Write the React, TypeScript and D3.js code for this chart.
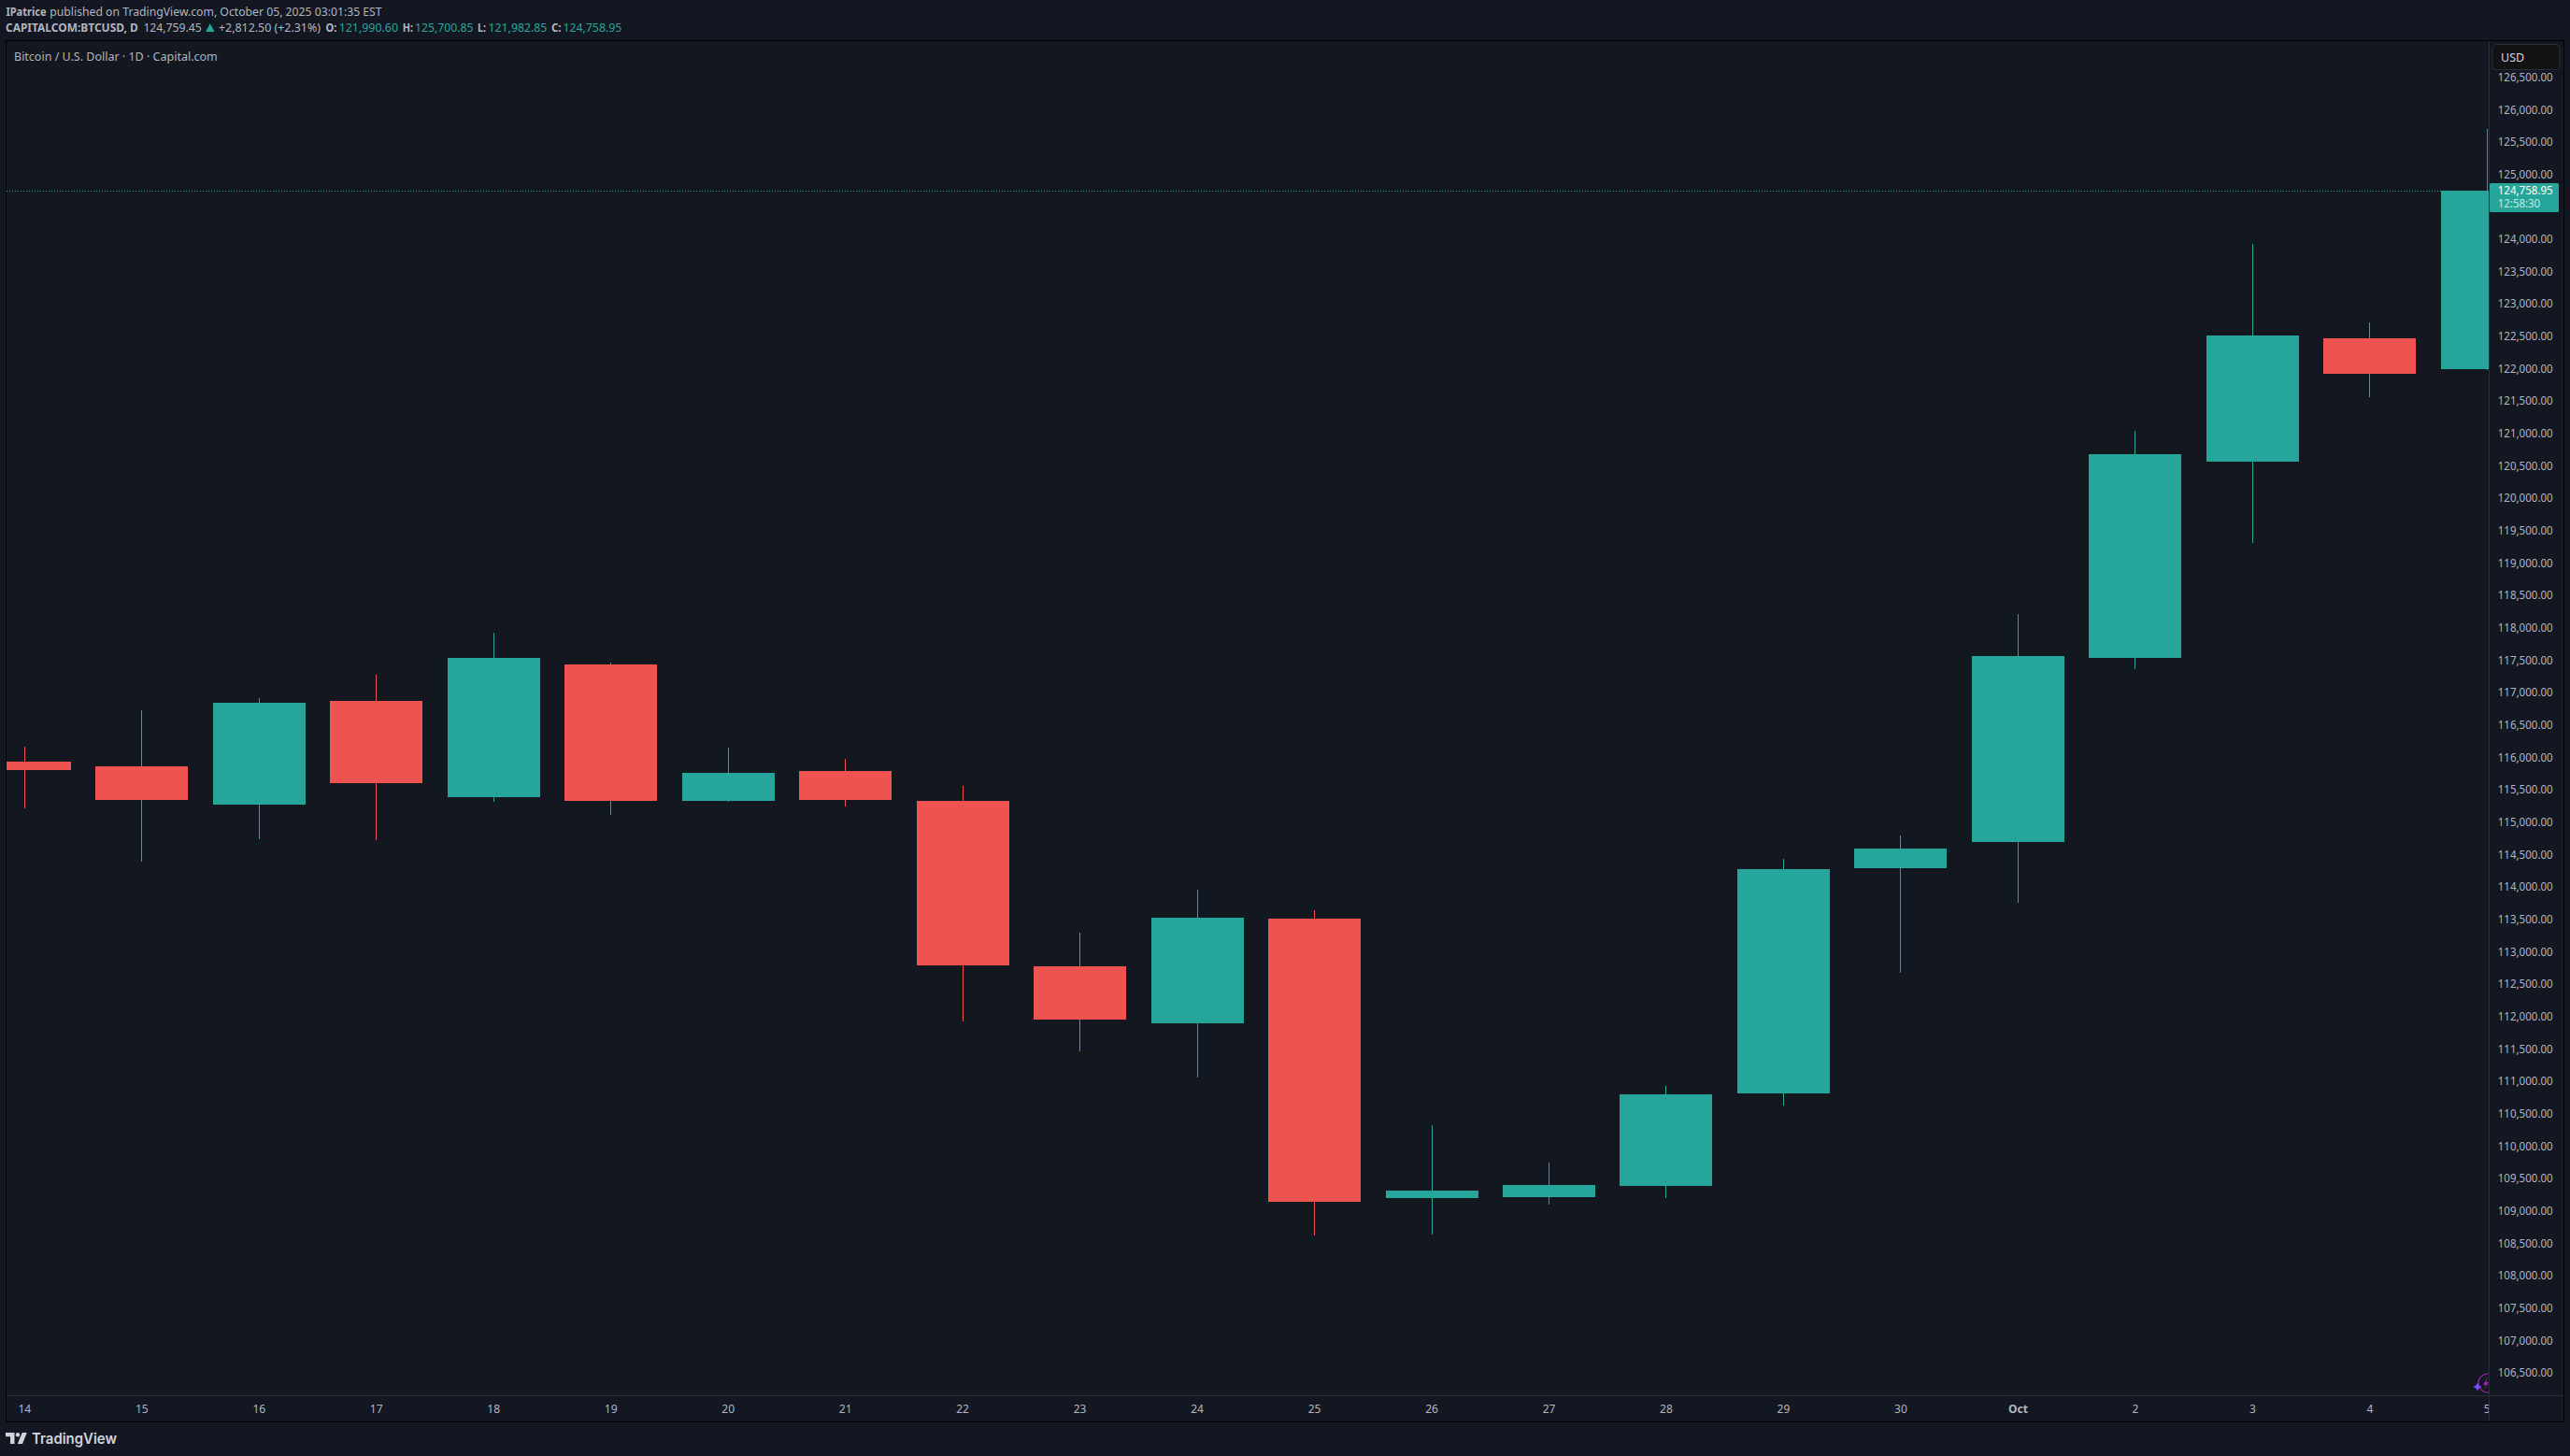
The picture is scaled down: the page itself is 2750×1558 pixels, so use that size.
import React, { useEffect, useRef } from 'react';
import * as d3 from 'd3';

const days = ['14', '15', '16', '17', '18', '19', '20', '21', '22', '23', '24', '25', '26', '27', '28', '29', '30', 'Oct', '2', '3', '4', '5'];
const opens = [115938, 115866, 115274, 116876, 115390, 117438, 115332, 115794, 115332, 112778, 111899, 113514, 109201, 109215, 109388, 110817, 114293, 114697, 117539, 120569, 122473, 121990.6];
const highs = [116169, 116731, 116919, 117280, 117929, 117467, 116154, 115981, 115563, 113298, 113961, 113644, 110326, 109749, 110932, 114438, 114798, 118217, 121045, 123930, 122718, 125700.85];
const lows = [115221, 114394, 114741, 114726, 115318, 115116, 115318, 115245, 111927, 111466, 111062, 108624, 108638, 109100, 109201, 110629, 112678, 113760, 117366, 119313, 121564, 121982.85];
const closes = [115808, 115346, 116847, 115606, 117539, 115332, 115765, 115346, 112793, 111956, 113529, 109143, 109316, 109403, 110802, 114279, 114596, 117568, 120684, 122516, 121925, 124758.95];

// 124,500 sits behind the last price tag, so it is left out
const priceTicks = [106500, 107000, 107500, 108000, 108500, 109000, 109500, 110000, 110500, 111000, 111500, 112000, 112500, 113000, 113500, 114000, 114500, 115000, 115500, 116000, 116500, 117000, 117500, 118000, 118500, 119000, 119500, 120000, 120500, 121000, 121500, 122000, 122500, 123000, 123500, 124000, 125000, 125500, 126000, 126500];
const lastPrice = 124758.95;
const countdown = '12:58:30';

const UP = '#26a69a';
const DOWN = '#ef5350';
const FONT = '"Noto Sans", sans-serif';

const App: React.FC = () => {
  const ref = useRef<SVGSVGElement>(null);

  useEffect(() => {
    if (!ref.current) return;
    const width = 2750;
    const height = 1558;
    const left = 7;
    const top = 44;
    const axisX = 2663;
    const axisY = 1493;
    const right = 2743;
    const bottom = 1521;

    const svg = d3.select(ref.current)
      .attr('width', width)
      .attr('height', height)
      .style('position', 'absolute')
      .style('left', 0)
      .style('top', 0)
      .style('font-family', FONT);
    svg.selectAll('*').remove();

    const x = d3.scalePoint<string>().domain(days).range([26.3, 2661.3]);
    const y = d3.scaleLinear().domain([126000, 106500]).range([117.5, 1469.3]);
    const bodyWidth = 99;
    // candles sit on whole pixels, the way the chart library snaps them
    const cx = (d: string) => Math.floor(x(d)!) + 0.5;
    const py = (v: number) => Math.round(y(v));

    svg.append('rect').attr('width', width).attr('height', height).attr('fill', '#131722');
    svg.append('rect')
      .attr('x', left).attr('y', top)
      .attr('width', axisX - left).attr('height', axisY - top)
      .attr('fill', '#121720');

    const defs = svg.append('defs');
    defs.append('clipPath').attr('id', 'pane').append('rect')
      .attr('x', left).attr('y', top)
      .attr('width', axisX - left).attr('height', bottom - top);

    // last price line
    svg.append('line')
      .attr('x1', left).attr('x2', axisX)
      .attr('y1', py(lastPrice) + 0.5).attr('y2', py(lastPrice) + 0.5)
      .attr('stroke', UP)
      .attr('stroke-dasharray', '1 2');

    const candles = svg.append('g').attr('clip-path', 'url(#pane)').attr('shape-rendering', 'crispEdges');
    const color = (i: number) => (closes[i] >= opens[i] ? UP : DOWN);

    candles.selectAll('line')
      .data(days)
      .enter()
      .append('line')
      .attr('x1', d => cx(d))
      .attr('x2', d => cx(d))
      .attr('y1', (_, i) => py(highs[i]))
      .attr('y2', (_, i) => py(lows[i]))
      .attr('stroke', (_, i) => color(i))
      .attr('stroke-width', 1);

    candles.selectAll('rect')
      .data(days)
      .enter()
      .append('rect')
      .attr('x', d => cx(d) - bodyWidth / 2)
      .attr('width', bodyWidth)
      .attr('y', (_, i) => py(Math.max(opens[i], closes[i])))
      .attr('height', (_, i) => py(Math.min(opens[i], closes[i])) - py(Math.max(opens[i], closes[i])))
      .attr('fill', (_, i) => color(i));

    // event marker, bottom right
    const marker = svg.append('g').attr('clip-path', 'url(#pane)');
    marker.append('circle')
      .attr('cx', 2662).attr('cy', 1480).attr('r', 10)
      .attr('fill', 'none').attr('stroke', '#9c27b0').attr('stroke-width', 1.2);
    marker.append('path')
      .attr('d', 'M2662 1473 L2657 1482 L2660 1482 L2658 1487 L2663 1479 L2660 1479 Z')
      .attr('fill', '#9c27b0');
    svg.append('path')
      .attr('d', 'M2651 1479 Q2651.5 1483 2656 1484 Q2651.5 1485 2651 1489 Q2650.5 1485 2646 1484 Q2650.5 1483 2651 1479 Z')
      .attr('fill', '#7c4dff');

    // price axis
    const priceAxis = svg.append('g')
      .attr('transform', `translate(${axisX},0)`)
      .call(d3.axisRight(y).tickValues(priceTicks).tickFormat(d3.format(',.2f') as any).tickSize(0).tickPadding(9.7).offset(0));
    priceAxis.select('.domain').remove();
    priceAxis.selectAll('text')
      .attr('fill', '#b2b5be')
      .attr('font-size', 12.5)
      .attr('font-family', FONT)
      .attr('textLength', 59)
      .attr('lengthAdjust', 'spacingAndGlyphs');
    // the button's backdrop hides the top of the highest label
    svg.append('rect')
      .attr('x', axisX + 1).attr('y', top)
      .attr('width', right - axisX - 1).attr('height', 78 - top)
      .attr('fill', '#131722');

    // time axis
    const timeClip = defs.append('clipPath').attr('id', 'time');
    timeClip.append('rect').attr('x', left).attr('y', axisY).attr('width', axisX - left).attr('height', bottom - axisY);
    const timeAxis = svg.append('g')
      .attr('clip-path', 'url(#time)')
      .append('g')
      .attr('transform', `translate(0,${axisY})`)
      .call(d3.axisBottom(x).tickSize(0).tickPadding(10).offset(0));
    timeAxis.select('.domain').remove();
    timeAxis.selectAll('text')
      .attr('fill', '#b2b5be')
      .attr('font-size', 12)
      .attr('font-family', FONT)
      .attr('font-weight', (d: any) => (d === 'Oct' ? 700 : 400));

    // frame
    const frame = svg.append('g').attr('stroke', '#2a2e39').attr('fill', 'none');
    frame.append('line').attr('x1', left).attr('x2', right).attr('y1', axisY + 0.5).attr('y2', axisY + 0.5);
    frame.append('line').attr('x1', axisX + 0.5).attr('x2', axisX + 0.5).attr('y1', top).attr('y2', bottom);
    svg.append('rect')
      .attr('x', 6.5).attr('y', 43.5)
      .attr('width', right - 6).attr('height', bottom - 43)
      .attr('fill', 'none').attr('stroke', '#000');

    // last price tag
    svg.append('rect')
      .attr('x', axisX + 1).attr('y', 196)
      .attr('width', 74).attr('height', 31)
      .attr('rx', 1.5)
      .attr('fill', UP);
    svg.append('text')
      .attr('x', 2672.7).attr('y', 207.5)
      .attr('font-size', 12.5).attr('fill', '#ffffff')
      .attr('textLength', 59).attr('lengthAdjust', 'spacingAndGlyphs')
      .text(d3.format(',.2f')(lastPrice));
    svg.append('text')
      .attr('x', 2672.7).attr('y', 222)
      .attr('font-size', 12.5).attr('fill', '#c8e9e5')
      .attr('textLength', 45.5).attr('lengthAdjust', 'spacingAndGlyphs')
      .text(countdown);

    // currency button
    svg.append('rect')
      .attr('x', 2667).attr('y', 47.5)
      .attr('width', 72).attr('height', 27)
      .attr('rx', 4)
      .attr('fill', '#121212').attr('stroke', '#2a2e39').attr('stroke-width', 1);
    svg.append('text')
      .attr('x', 2676).attr('y', 65.5)
      .attr('font-size', 12.5).attr('fill', '#d1d4dc')
      .text('USD');

    // header and title
    const muted = '#b2b5be';
    const header: [string, number, number, number, string, number][] = [
      ['IPatrice', 6.4, 17, 43.2, muted, 700],
      ['published on TradingView.com, October 05, 2025 03:01:35 EST', 53.3, 17, 355.3, muted, 400],
      ['CAPITALCOM:BTCUSD, D', 6, 34, 141.8, muted, 700],
      ['124,759.45', 153.4, 34, 62.4, muted, 400],
      ['+2,812.50 (+2.31%)', 234, 34, 109, muted, 400],
      ['O:', 348.5, 34, 11.9, muted, 700],
      ['121,990.60', 362.7, 34, 63.3, UP, 400],
      ['H:', 430.7, 34, 11.3, muted, 700],
      ['125,700.85', 444, 34, 62.4, UP, 400],
      ['L:', 511, 34, 9, muted, 700],
      ['121,982.85', 522.5, 34, 62.9, UP, 400],
      ['C:', 590, 34, 10.6, muted, 700],
      ['124,758.95', 602.4, 34, 62.9, UP, 400],
      ['Bitcoin / U.S. Dollar · 1D · Capital.com', 15, 65, 217.8, muted, 400],
    ];
    svg.append('g').selectAll('text')
      .data(header)
      .enter()
      .append('text')
      .attr('x', d => d[1])
      .attr('y', d => d[2])
      .attr('textLength', d => d[3])
      .attr('lengthAdjust', 'spacingAndGlyphs')
      .attr('fill', d => d[4])
      .attr('font-weight', d => d[5])
      .attr('font-size', 12.5)
      .text(d => d[0]);
    svg.append('path').attr('d', 'M220 34 L224.8 25.3 L229.6 34 Z').attr('fill', UP);

    // logo
    const logo = svg.append('g').attr('fill', '#d1d4dc');
    logo.append('path').attr('d', 'M6 1533 H15.5 V1545 H11 V1537.2 H6 Z');
    logo.append('circle').attr('cx', 19).attr('cy', 1535.2).attr('r', 2.2);
    logo.append('path').attr('d', 'M23.7 1533 H28.8 L24 1545 H18.8 Z');
    svg.append('text')
      .attr('x', 34).attr('y', 1545)
      .attr('font-family', 'Inter, sans-serif')
      .attr('font-size', 16)
      .attr('font-weight', 600)
      .attr('fill', '#d1d4dc')
      .attr('textLength', 91)
      .attr('lengthAdjust', 'spacingAndGlyphs')
      .text('TradingView');
  }, []);

  return <svg ref={ref}></svg>;
};

export default App;
